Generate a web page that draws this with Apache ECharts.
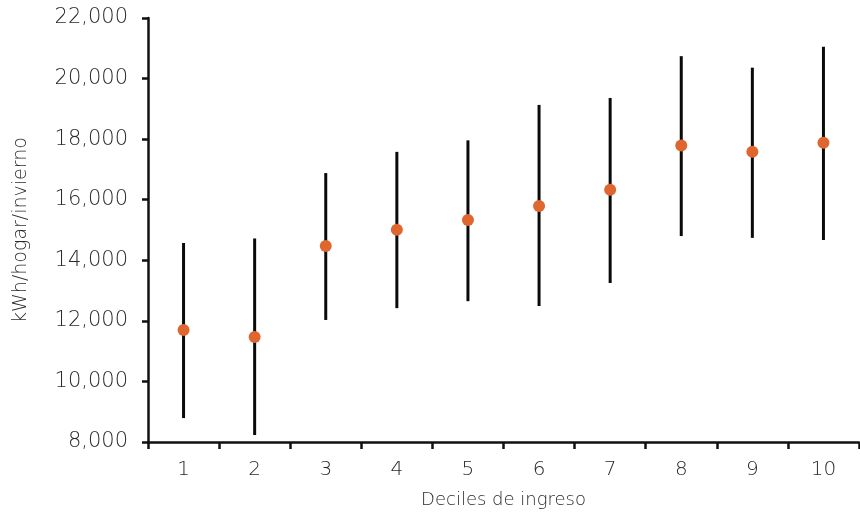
<!DOCTYPE html>
<html>
<head>
<meta charset="utf-8">
<script src="https://cdn.jsdelivr.net/npm/echarts@6/dist/echarts.min.js"></script>
<style>
  html, body { margin: 0; padding: 0; background: #fff; }
  #chart { width: 860px; height: 512px; }
</style>
</head>
<body>
<div id="chart"></div>
<script>
// deciles de ingreso
const categories = ['1', '2', '3', '4', '5', '6', '7', '8', '9', '10'];
// consumo medio (kWh/hogar/invierno)
const meanValues = [11700, 11470, 14470, 15010, 15330, 15790, 16330, 17790, 17580, 17880];
// extremos de las barras de error
const lowValues = [8790, 8230, 12030, 12420, 12650, 12490, 13250, 14800, 14740, 14670];
const highValues = [14570, 14720, 16880, 17580, 17960, 19130, 19360, 20740, 20360, 21050];
const yTicks = [8000, 22000, 2000]; // min, max, interval

const FONT = "'DejaVu Sans'";
const chart = echarts.init(document.getElementById('chart'));

const barData = categories.map((c, i) => [i, lowValues[i], highValues[i]]);

const option = {
  animation: false,
  grid: { left: 148, right: 1, top: 18, bottom: 70, outerBoundsMode: 'none', containLabel: false },
  xAxis: {
    type: 'category',
    data: categories,
    boundaryGap: true,
    name: 'Deciles de ingreso',
    nameLocation: 'middle',
    nameGap: 49,
    nameTextStyle: { color: '#2a2a2a', fontSize: 18, fontFamily: FONT, fontWeight: 200 },
    axisLine: { lineStyle: { color: '#111', width: 2.5 } },
    axisTick: { show: true, length: 7, lineStyle: { color: '#111', width: 2.5 } },
    axisLabel: { color: '#2a2a2a', fontSize: 20, fontFamily: FONT, fontWeight: 200, margin: 18 },
    splitLine: { show: false }
  },
  yAxis: {
    type: 'value',
    min: yTicks[0],
    max: yTicks[1],
    interval: yTicks[2],
    name: 'kWh/hogar/invierno',
    nameLocation: 'middle',
    nameGap: 117,
    nameTextStyle: { color: '#2a2a2a', fontSize: 19, fontFamily: FONT, fontWeight: 200 },
    axisLine: { show: true, lineStyle: { color: '#111', width: 2.5 } },
    axisTick: { show: true, length: 6, lineStyle: { color: '#111', width: 2.5 } },
    axisLabel: {
      color: '#2a2a2a', fontSize: 21, fontFamily: FONT, fontWeight: 200, margin: 20,
      formatter: v => v.toLocaleString('en-US')
    },
    splitLine: { show: false }
  },
  series: [
    {
      type: 'custom',
      data: barData,
      renderItem: function (params, api) {
        const top = api.coord([api.value(0), api.value(2)]);
        const bot = api.coord([api.value(0), api.value(1)]);
        return {
          type: 'line',
          shape: { x1: top[0], y1: top[1], x2: bot[0], y2: bot[1] },
          style: { stroke: '#0a0a0a', lineWidth: 3 }
        };
      },
      z: 1
    },
    {
      type: 'scatter',
      data: meanValues,
      symbol: 'circle',
      symbolSize: 12,
      itemStyle: { color: '#e0662f', opacity: 1 },
      z: 2
    }
  ]
};

chart.setOption(option);
</script>
</body>
</html>
